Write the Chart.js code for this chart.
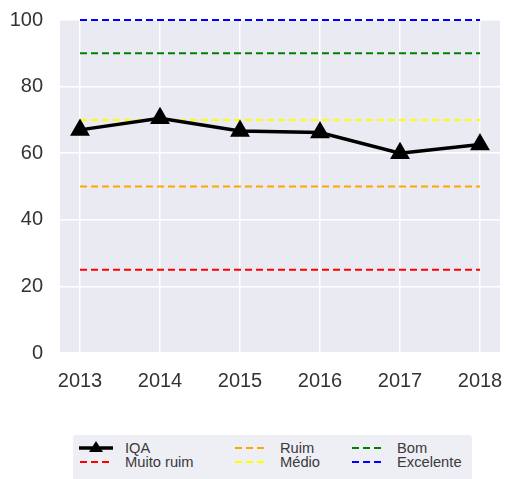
<!DOCTYPE html>
<html>
<head>
<meta charset="utf-8">
<script src="https://cdn.jsdelivr.net/npm/chart.js@4.4.0/dist/chart.umd.min.js"></script>
<style>
  html, body { margin: 0; padding: 0; background: #fff; }
  #wrap { position: relative; width: 506px; height: 479px; overflow: hidden; }
  #legend {
    position: absolute; left: 73px; top: 435px; width: 399px; height: 50px;
    background: #eeeef5; border-radius: 3px;
    font-family: "Liberation Sans", Arial, sans-serif; font-size: 14px; color: #3a3a3a;
  }
  .item { position: absolute; height: 14px; line-height: 14px; white-space: nowrap; }
  .item svg { position: absolute; left: 0; top: 0; }
  .item span { position: absolute; left: 47px; top: 0; transform: scaleX(1.05); transform-origin: left center; }
</style>
</head>
<body>
<div id="wrap">
  <canvas id="chart" width="506" height="479"></canvas>
  <div id="legend"></div>
</div>
<script>
// anos
const years = [2013, 2014, 2015, 2016, 2017, 2018];
// IQA medido
const iqaValues = [67, 70.5, 66.7, 66.2, 60, 62.6];
// faixas de qualidade
const bandNames = ["Muito ruim", "Ruim", "Médio", "Bom", "Excelente"];
const bandValues = [25, 50, 70, 90, 100];
const bandColors = ["#ff0000", "#ffa500", "#ffff00", "#008000", "#0000ff"];
const yTicks = [0, 20, 40, 60, 80, 100];

const tickFont = { family: "'Liberation Sans', Arial, sans-serif", size: 20 };

const datasets = [
  {
    label: "IQA",
    data: years.map((y, i) => ({ x: y, y: iqaValues[i] })),
    borderColor: "#000",
    backgroundColor: "#000",
    borderWidth: 3.5,
    pointStyle: "triangle",
    pointRadius: 8,
    pointHoverRadius: 8,
    order: 0,
  },
];
bandNames.forEach((name, i) => {
  datasets.push({
    label: name,
    data: [
      { x: years[0], y: bandValues[i] },
      { x: years[years.length - 1], y: bandValues[i] },
    ],
    borderColor: bandColors[i],
    borderWidth: 2,
    borderDash: [7, 4],
    pointRadius: 0,
    order: 1,
  });
});

const plotBackground = {
  id: "plotBackground",
  beforeDraw(chart) {
    const { ctx, chartArea } = chart;
    ctx.save();
    ctx.fillStyle = "#eaeaf2";
    ctx.fillRect(chartArea.left, chartArea.top, chartArea.width, chartArea.height);
    ctx.restore();
  },
};

new Chart(document.getElementById("chart").getContext("2d"), {
  type: "line",
  data: { datasets },
  options: {
    responsive: false,
    animation: false,
    clip: false,
    layout: { autoPadding: false, padding: { top: 20, right: 6, bottom: 86, left: 0 } },
    plugins: { legend: { display: false }, tooltip: { enabled: false } },
    scales: {
      x: {
        type: "linear",
        min: 2012.75,
        max: 2018.25,
        afterBuildTicks: (scale) => {
          scale.ticks = years.map((v) => ({ value: v }));
        },
        afterFit: (scale) => {
          scale.height = 40;
          scale.paddingLeft = 0;
          scale.paddingRight = 0;
        },
        grid: { color: "#fff", lineWidth: 1.5, drawTicks: false },
        border: { display: false },
        ticks: { font: tickFont, color: "#333", padding: 16, maxRotation: 0, callback: (v) => String(v) },
      },
      y: {
        min: 0,
        max: 100,
        afterBuildTicks: (scale) => {
          scale.ticks = yTicks.map((v) => ({ value: v }));
        },
        afterFit: (scale) => {
          scale.width = 60;
          scale.paddingTop = 0;
          scale.paddingBottom = 0;
        },
        grid: { color: "#fff", lineWidth: 1.5, drawTicks: false },
        border: { display: false },
        ticks: { font: tickFont, color: "#333", padding: 17 },
      },
    },
  },
  plugins: [plotBackground],
});

// legenda em 3 colunas (preenchida por coluna, como no matplotlib)
const legend = document.getElementById("legend");
const colX = [5, 160, 277];
const rowY = [6, 20];
datasets.forEach((ds, i) => {
  const col = Math.floor(i / 2);
  const row = i % 2;
  const item = document.createElement("div");
  item.className = "item";
  item.style.left = colX[col] + "px";
  item.style.top = rowY[row] + "px";
  let svg;
  if (ds.label === "IQA") {
    svg = `<svg width="36" height="14"><line x1="1" y1="7" x2="35" y2="7" stroke="#000" stroke-width="3.5"/>
      <polygon points="18,0 25,11 11,11" fill="#000"/></svg>`;
  } else {
    svg = `<svg width="36" height="14"><line x1="2" y1="7" x2="34" y2="7" stroke="${ds.borderColor}" stroke-width="2" stroke-dasharray="7,4"/></svg>`;
  }
  item.innerHTML = svg + `<span>${ds.label}</span>`;
  legend.appendChild(item);
});
</script>
</body>
</html>
